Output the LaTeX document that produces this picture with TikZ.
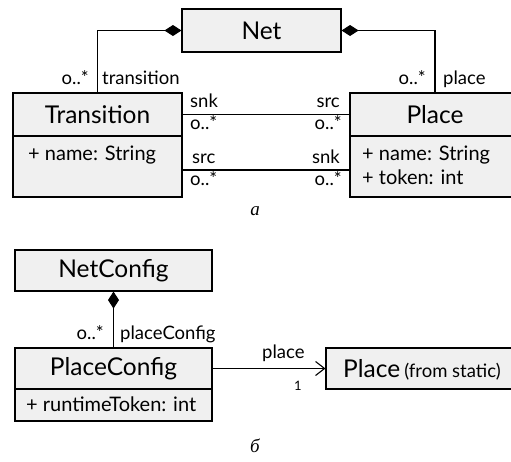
\documentclass[tikz,border=0pt]{standalone}
\usepackage{fontspec}
\setmainfont{Lato}
\newfontfamily\capfont{Liberation Serif}
\usetikzlibrary{arrows.meta}
\begin{document}
\begin{tikzpicture}[x=1pt,y=-1pt,
  box/.style={draw, line width=1.1pt, fill=black!6, inner sep=0pt},
  title/.style={font=\fontsize{24.5}{28}\selectfont},
  attr/.style={font=\fontsize{20}{23}\selectfont, inner sep=0pt},
  lbl/.style={font=\fontsize{18.5}{21}\selectfont, inner sep=0pt},
  conn/.style={line width=1.1pt},
  compo/.style={conn, {Diamond[length=17pt,width=11pt]}-},
  caption/.style={font=\capfont\itshape\fontsize{19}{22}\selectfont}
]
\useasboundingbox (0,0) rectangle (511,461);

% ---- static model ----
\node[box, title, minimum width=159pt, minimum height=43pt] (net) at (261.5,30.5) {Net};

\node[box, title, minimum width=169pt, minimum height=43pt] (transH) at (97.5,114.5) {Transition};
\node[box, minimum width=169pt, minimum height=61pt] (transB) at (97.5,166.5) {};
\node[attr, anchor=base west] (transA1) at (28,160) {+ name: String};

\node[box, title, minimum width=170pt, minimum height=43pt] (placeH) at (435,114.5) {Place};
\node[box, minimum width=170pt, minimum height=61pt] (placeB) at (435,166.5) {};
\node[attr, anchor=base west] (placeA1) at (362,160) {+ name: String};
\node[attr, anchor=base west] (placeA2) at (362,184) {+ token: int};

\draw[compo] (net.west) -| (transH.north);
\draw[compo] (net.east) -| (placeH.north);
\node[lbl, anchor=base east] (m1) at (89,84) {o..*};
\node[lbl, anchor=base west] (r1) at (102,84) {transition};
\node[lbl, anchor=base east] (m2) at (426,84) {o..*};
\node[lbl, anchor=base west] (r2) at (443,84) {place};

\draw[conn] (transH.east) -- (placeH.west);
\draw[conn] ([yshift=-3.5pt]transB.east) -- ([yshift=-3.5pt]placeB.west);
\node[lbl, anchor=base west] (s1) at (190,107) {snk};
\node[lbl, anchor=base east] (s2) at (340,107) {src};
\node[lbl, anchor=base west] (s3) at (190,129) {o..*};
\node[lbl, anchor=base east] (s4) at (342,129) {o..*};
\node[lbl, anchor=base west] (s5) at (192,163) {src};
\node[lbl, anchor=base east] (s6) at (340,163) {snk};
\node[lbl, anchor=base west] (s7) at (190,185) {o..*};
\node[lbl, anchor=base east] (s8) at (342,185) {o..*};

\node[caption] (capA) at (255,211) {a};

% ---- runtime model ----
\node[box, title, minimum width=197pt, minimum height=41pt] (netcfg) at (113.5,270.5) {NetConfig};
\node[box, title, minimum width=197pt, minimum height=41pt] (pcfgH) at (113.5,368.5) {PlaceConfig};
\node[box, minimum width=197pt, minimum height=32pt] (pcfgB) at (113.5,405) {};
\node[attr, anchor=base west] (pcfgA1) at (26,411) {+ runtimeToken: int};

\draw[compo] (netcfg.south) -- (pcfgH.north);
\node[lbl, anchor=base east] (m3) at (104,339) {o..*};
\node[lbl, anchor=base west] (r3) at (120,339) {placeConfig};

\node[box, minimum width=192pt, minimum height=41pt] (pstat) at (422,368.5) {};
\node[anchor=base west, inner sep=0pt] (pstatT) at (343,377)
  {\fontsize{24.5}{28}\selectfont Place\,\fontsize{18.5}{21}\selectfont(from static)};
\draw[conn, -{Straight Barb[length=9pt,width=14pt,line width=1.1pt]}] (pcfgH.east) -- (pstat.west);
\node[lbl, anchor=base west] (r4) at (262,358) {place};
\node[lbl, font=\fontsize{13}{15}\selectfont, anchor=base] (m4) at (298,390) {1};

\node[caption] (capB) at (255,446) {б};
\end{tikzpicture}
\end{document}
